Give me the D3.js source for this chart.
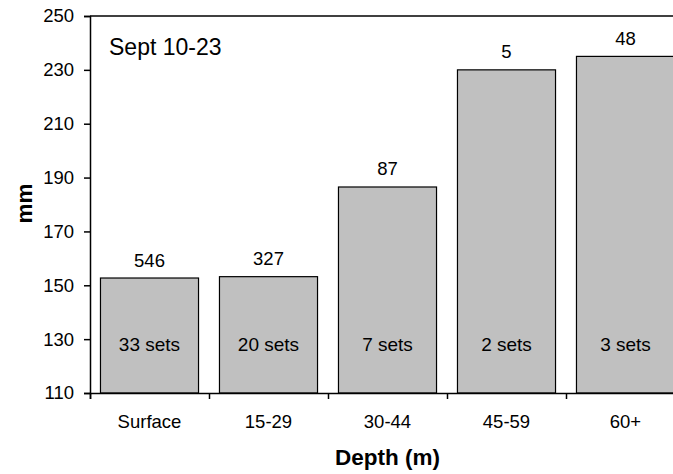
<!DOCTYPE html>
<html><head><meta charset="utf-8">
<script src="https://cdn.jsdelivr.net/npm/d3@7"></script>
<style>body{margin:0;background:#fff;}svg{display:block;font-family:"Liberation Sans",Arial,sans-serif;}</style>
</head><body>
<script>
const categories = ["Surface","15-29","30-44","45-59","60+"];
const values = [152.7, 153.2, 186.5, 230, 235];
const counts = ["546","327","87","5","48"];
const sets = ["33 sets","20 sets","7 sets","2 sets","3 sets"];
const yTicks = [110,130,150,170,190,210,230,250];

const W=673,H=474;
const mLeft=90,mTop=16,plotW=595,plotH=377;
const FS=18.5;
const svg=d3.select("body").append("svg").attr("width",W).attr("height",H);
const x=d3.scaleBand().domain(categories).range([mLeft,mLeft+plotW]).paddingInner(0.176).paddingOuter(0.088);
const y=d3.scaleLinear().domain([110,250]).range([mTop+plotH,mTop]);

// top border
svg.append("line").attr("x1",mLeft).attr("x2",W).attr("y1",mTop).attr("y2",mTop).attr("stroke","#000").attr("stroke-width",1.5);

svg.selectAll("rect.bar").data(values).join("rect")
  .attr("x",(d,i)=>x(categories[i])).attr("width",x.bandwidth())
  .attr("y",d=>y(d)).attr("height",d=>y(110)-y(d))
  .attr("fill","#c0c0c0").attr("stroke","#000").attr("stroke-width",1.2);

const ya=svg.append("g").attr("transform",`translate(${mLeft},0)`)
  .call(d3.axisLeft(y).tickValues(yTicks).tickSize(6).tickPadding(10).tickFormat(d3.format("d")));
const xa=svg.append("g").attr("transform",`translate(0,${mTop+plotH})`)
  .call(d3.axisBottom(d3.scalePoint().domain(d3.range(6)).range([mLeft,mLeft+plotW])).tickSize(6).tickFormat(""));
[ya,xa].forEach(g=>{g.attr("font-size",FS).attr("font-family","Liberation Sans, Arial, sans-serif");
  g.select(".domain").attr("stroke-width",1.5);g.selectAll("line").attr("stroke-width",1.5);
  g.selectAll("text").attr("fill","#000");});

svg.selectAll("text.cat").data(categories).join("text")
  .attr("x",d=>x(d)+x.bandwidth()/2).attr("y",428).attr("text-anchor","middle")
  .attr("font-size",FS).text(d=>d);

svg.selectAll("text.cnt").data(values).join("text")
  .attr("x",(d,i)=>x(categories[i])+x.bandwidth()/2).attr("y",d=>y(d)-11.5).attr("text-anchor","middle")
  .attr("font-size",FS).text((d,i)=>counts[i]);

svg.selectAll("text.sets").data(sets).join("text")
  .attr("x",(d,i)=>x(categories[i])+x.bandwidth()/2).attr("y",351).attr("text-anchor","middle")
  .attr("font-size",19).text(d=>d);

svg.append("text").attr("x",109).attr("y",55).attr("font-size",23).text("Sept 10-23");
svg.append("text").attr("transform","translate(31.5,203.5) rotate(-90)").attr("text-anchor","middle")
  .attr("font-size",22.5).attr("font-weight","bold").text("mm");
svg.append("text").attr("x",mLeft+plotW/2).attr("y",465).attr("text-anchor","middle")
  .attr("font-size",22.5).attr("font-weight","bold").text("Depth (m)");
</script>
</body></html>
